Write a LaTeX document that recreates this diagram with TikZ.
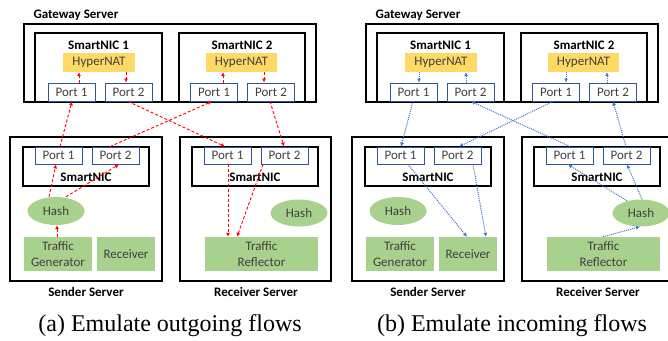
\documentclass[tikz,border=0pt]{standalone}
\usepackage{fontspec}
\setmainfont{Carlito}
\newfontfamily\capfont{Liberation Serif}
\usetikzlibrary{shapes.geometric,arrows.meta,calc}
\definecolor{natY}{HTML}{FFD966}
\definecolor{grn}{HTML}{A9D18E}
\definecolor{portB}{HTML}{2F5597}
\definecolor{txtG}{HTML}{404040}
\definecolor{arrB}{HTML}{4472C4}
\newcommand\drawpanel[3]{%
\begin{scope}[xshift=#2]
\node[lbl, anchor=west] (#1gwl) at (30,15) {Gateway Server};
\node[srv, minimum width=292, minimum height=78] (#1gw) at (170,63) {};
\node[srv, minimum width=127, minimum height=69] (#1nic1) at (98.5,67.5) {};
\node[srv, minimum width=126, minimum height=69] (#1nic2) at (242,67.5) {};
\node[lbl] (#1nic1l) at (98.5,45) {SmartNIC 1};
\node[lbl] (#1nic2l) at (242,45) {SmartNIC 2};
\node[nat] (#1nat1) at (99,62.5) {HyperNAT};
\node[nat, minimum width=71] (#1nat2) at (241.5,62.5) {HyperNAT};
\node[port] (#1p11) at (71.5,92) {Port 1};
\node[port] (#1p12) at (128.5,92) {Port 2};
\node[port] (#1p21) at (214,92) {Port 1};
\node[port] (#1p22) at (271,92) {Port 2};
% sender
\node[srv, minimum width=152, minimum height=144] (#1ss) at (86,209) {};
\node[srv, minimum width=126, minimum height=39] (#1snic) at (86,166.5) {};
\node[lbl] (#1snicl) at (86,177) {SmartNIC};
\node[port, minimum height=17] (#1sp1) at (58.5,155.5) {Port 1};
\node[port, minimum height=17] (#1sp2) at (115.5,155.5) {Port 2};
\node[hsh] (#1hash) at (56,211) {Hash};
\node[gbox, minimum width=68, minimum height=34] (#1tg) at (58,254) {Traffic\\Generator};
\node[gbox, minimum width=58, minimum height=34] (#1recv) at (126,254) {Receiver};
\node[lbl] (#1ssl) at (86,292) {Sender Server};
% receiver
\node[srv, minimum width=151, minimum height=144] (#1rs) at (255.5,209) {};
\node[srv, minimum width=126, minimum height=39] (#1rnic) at (255,166.5) {};
\node[lbl] (#1rnicl) at (255,177) {SmartNIC};
\node[port, minimum height=17] (#1rp1) at (227.5,155.5) {Port 1};
\node[port, minimum height=17] (#1rp2) at (284.5,155.5) {Port 2};
\node[hsh, minimum height=27] (#1rhash) at (299,213) {Hash};
\node[gbox, minimum width=113, minimum height=34] (#1tr) at (261.5,254) {Traffic\\Reflector};
\node[lbl] (#1rsl) at (256,292) {Receiver Server};
\node[font=\capfont\fontsize{24}{28}\selectfont] (#1cap) at (170,326) {#3};
\end{scope}}
\begin{document}
\begin{tikzpicture}[x=1pt,y=-1pt,
  font=\fontsize{13}{16}\selectfont,
  srv/.style={draw=black, line width=1.8pt, inner sep=0},
  port/.style={draw=portB, line width=0.9pt, fill=white, text=txtG, minimum width=47, minimum height=18, inner sep=0},
  nat/.style={fill=natY, text=txtG, minimum width=72, minimum height=19, inner sep=0},
  gbox/.style={fill=grn, text=txtG, inner sep=0, align=center},
  hsh/.style={ellipse, fill=grn, text=txtG, minimum width=57, minimum height=28, inner sep=0},
  lbl/.style={font=\bfseries\fontsize{13}{15}\selectfont},
  ra/.style={draw=red, line width=0.9pt, dash pattern=on 3pt off 2pt, -{Latex[length=4pt,width=4pt]}},
  ba/.style={draw=arrB, line width=1pt, dash pattern=on 1pt off 1pt, -{Latex[length=4pt,width=4pt]}}]
\useasboundingbox (0,0) rectangle (668,340);
\drawpanel{a}{0}{(a) Emulate outgoing flows}
\drawpanel{b}{342}{(b) Emulate incoming flows}
% panel a arrows
\draw[ra] ($(ap11.north)+(7.5,0)$) -- ($(anat1.south)+(-20,0)$);
\draw[ra] ($(anat1.south)+(27,0)$) -- ($(ap12.north)+(-2.5,0)$);
\draw[ra] ($(ap21.north)+(9,0)$) -- ($(anat2.south)+(-18.5,0)$);
\draw[ra] ($(anat2.south)+(22.5,0)$) -- ($(ap22.north)+(-7,0)$);
\draw[ra] ($(ahash.north)+(-7,0)$) -- ($(asp1.south)+(-2.5,0)$);
\draw[ra] ($(asp1.north)+(1.5,0)$) -- ($(ap11.south)+(0.5,0)$);
\draw[ra] ($(ahash.north)+(10,0)$) -- ($(asp2.south)+(3.5,0)$);
\draw[ra] ($(asp2.north)+(-5.5,0)$) -- ($(ap21.south)+(-2,0)$);
\draw[ra] ($(atg.north)+(-1,0)$) -- ($(ahash.south)+(1,0)$);
\draw[ra] ($(ap12.south)+(-0.5,0)$) -- ($(arp1.north)+(-2.5,0)$);
\draw[ra] ($(ap22.south)+(-1,0)$) -- ($(arp2.north)+(-0.5,0)$);
\draw[ra] ($(arp1.south)+(0.5,0)$) -- ($(atr.north)+(-33.5,0)$);
\draw[ra] ($(arp2.south)+(-21.5,0)$) -- ($(atr.north)+(-24.5,0)$);
% panel b arrows
\draw[ba] ($(bnat1.south)+(-22,0)$) -- ($(bp11.north)+(5.5,0)$);
\draw[ba] ($(bp12.north)+(-4.5,0)$) -- ($(bnat1.south)+(25,0)$);
\draw[ba] ($(bnat2.south)+(-17.5,0)$) -- ($(bp21.north)+(10,0)$);
\draw[ba] ($(bp22.north)+(-6,0)$) -- ($(bnat2.south)+(23.5,0)$);
\draw[ba] ($(bp11.south)+(-0.5,0)$) -- ($(bsp1.north)+(0.5,0)$);
\draw[ba] ($(bp21.south)+(-3,0)$) -- ($(bsp2.north)+(1.5,0)$);
\draw[ba] ($(brp1.north)+(0.5,0)$) -- ($(bp12.south)+(0.5,0)$);
\draw[ba] ($(brp2.north)+(-0.5,0)$) -- ($(bp22.south)+(0,0)$);
\draw[ba] ($(bsp1.south)+(7.5,0)$) -- ($(brecv.north)+(-1,0)$);
\draw[ba] ($(bsp2.south)+(15.5,0)$) -- ($(brecv.north)+(18,0)$);
\draw[ba] ($(btr.north)+(-0.5,0)$) -- ($(brhash.south)+(-1,0)$);
\draw[ba] ($(brhash.north)+(-14,1.5)$) -- ($(brp1.south)+(-1.5,0)$);
\draw[ba] ($(brhash.north)+(1,0)$) -- ($(brp2.south)+(0.5,0)$);
\end{tikzpicture}
\end{document}
